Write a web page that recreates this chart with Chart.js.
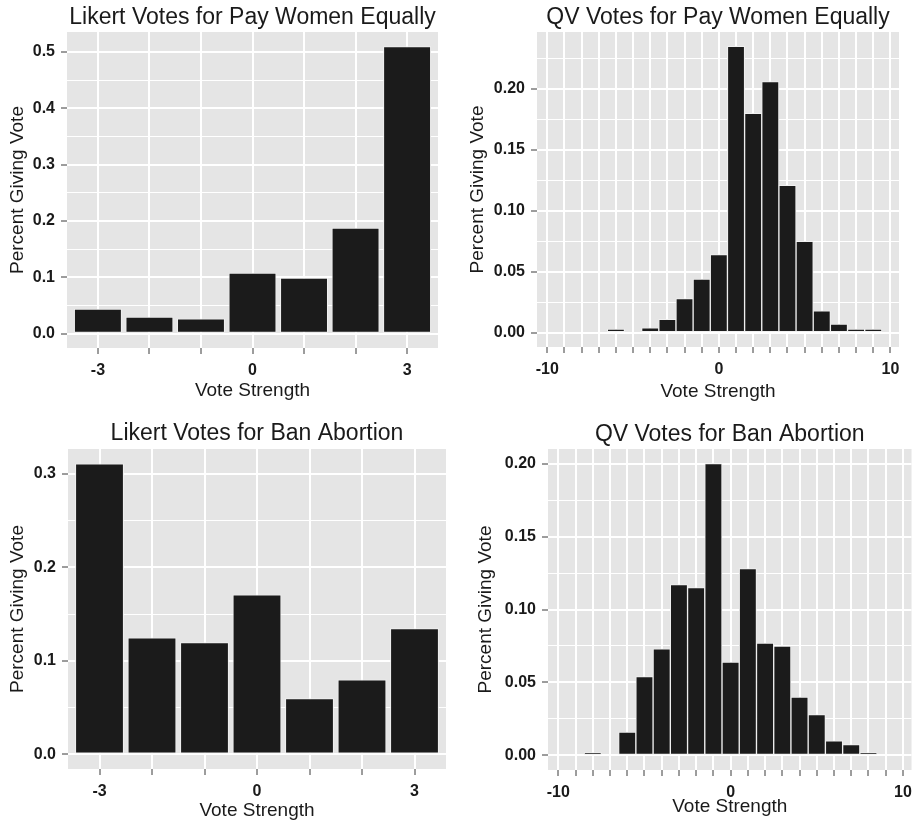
<!DOCTYPE html>
<html><head><meta charset="utf-8">
<script src="https://cdn.jsdelivr.net/npm/chart.js@4.4.1/dist/chart.umd.min.js"></script>
<style>
html,body{margin:0;padding:0;background:#fff;}
#wrap{position:relative;width:919px;height:829px;overflow:hidden;background:#fff;}
canvas{position:absolute;}
</style></head><body>
<div id="wrap">
<canvas id="c1" width="460" height="410" style="left:0px;top:0px"></canvas>
<canvas id="c2" width="459" height="410" style="left:460px;top:0px"></canvas>
<canvas id="c3" width="460" height="419" style="left:0px;top:410px"></canvas>
<canvas id="c4" width="459" height="419" style="left:460px;top:410px"></canvas>
</div>
<script>
// ---- data ----
const likertStrength = [-3, -2, -1, 0, 1, 2, 3];
const likertPayWomen = [0.044, 0.030, 0.027, 0.108, 0.099, 0.188, 0.510];
const likertBanAbortion = [0.311, 0.125, 0.120, 0.171, 0.060, 0.080, 0.135];

const qvStrength = [-10, -9, -8, -7, -6, -5, -4, -3, -2, -1, 0, 1, 2, 3, 4, 5, 6, 7, 8, 9, 10];
const qvPayWomen = [0, 0, 0, 0, 0.003, 0, 0.004, 0.011, 0.028, 0.044, 0.064, 0.235, 0.180, 0.206, 0.121, 0.075, 0.018, 0.007, 0.003, 0.003, 0];
const qvBanAbortion = [0, 0, 0.002, 0, 0.016, 0.054, 0.073, 0.117, 0.115, 0.200, 0.064, 0.128, 0.077, 0.075, 0.040, 0.028, 0.010, 0.0075, 0.002, 0, 0];

const likertXTickValues = [-3, 0, 3];
const likertXTickLabels = ['-3', '0', '3'];
const qvXTickValues = [-10, 0, 10];
const qvXTickLabels = ['-10', '0', '10'];

const payLikertYTicks = [0, 0.1, 0.2, 0.3, 0.4, 0.5];
const payLikertYLabels = ['0.0', '0.1', '0.2', '0.3', '0.4', '0.5'];
const payQvYTicks = [0, 0.05, 0.10, 0.15, 0.20];
const payQvYLabels = ['0.00', '0.05', '0.10', '0.15', '0.20'];
const abortionLikertYTicks = [0, 0.1, 0.2, 0.3];
const abortionLikertYLabels = ['0.0', '0.1', '0.2', '0.3'];
const abortionQvYTicks = [0, 0.05, 0.10, 0.15, 0.20];
const abortionQvYLabels = ['0.00', '0.05', '0.10', '0.15', '0.20'];

const panelTitles = [
  'Likert Votes for Pay Women Equally',
  'QV Votes for Pay Women Equally',
  'Likert Votes for Ban Abortion',
  'QV Votes for Ban Abortion'
];
const xAxisTitle = 'Vote Strength';
const yAxisTitle = 'Percent Giving Vote';

// ---- styling / layout ----
const FONT = '"Liberation Sans", Arial, Helvetica, sans-serif';
const TITLE_SIZE = 23, AXIS_TITLE_SIZE = 19, TICK_SIZE = 16;
const TEXT_COLOR = '#1a1a1a';
const PANEL_BG = '#e5e5e5';

const panelBg = {
  id: 'panelBg',
  beforeDraw(chart) {
    const {ctx, chartArea: a} = chart;
    ctx.save();
    ctx.fillStyle = PANEL_BG;
    ctx.fillRect(a.left, a.top, a.right - a.left, a.bottom - a.top);
    ctx.restore();
  }
};

function near(a, b) { return Math.abs(a - b) < 1e-9; }

function makePanel(spec) {
  const vmax = Math.max(...spec.values);
  const yMin = -0.05 * vmax, yMax = 1.05 * vmax;
  const majors = spec.yTicks;
  const step = majors[1] - majors[0];
  const allY = [];
  for (let v = majors[0] - step / 2; v <= yMax + 1e-9; v += step / 2) {
    if (v >= yMin - 1e-9) allY.push(Math.round(v * 100000) / 100000);
  }
  const isMajorY = v => majors.some(m => near(m, v));
  const xTickVals = spec.categories.slice();

  const points = spec.categories.map((c, i) => ({x: c, y: spec.values[i]})).filter(p => p.y > 0);

  const lh = TITLE_SIZE * 1.2;
  const tTop = spec.titleMid - lh / 2;
  const tBottom = spec.area.t - tTop - lh;
  const alh = AXIS_TITLE_SIZE * 1.2;

  new Chart(document.getElementById(spec.canvas), {
    type: 'bar',
    data: {
      datasets: [{
        data: points,
        backgroundColor: '#1b1b1b',
        borderColor: '#f0f0f0',
        borderWidth: 1,
        borderSkipped: false,
        barPercentage: spec.barPct,
        categoryPercentage: 1
      }]
    },
    options: {
      responsive: false,
      animation: false,
      devicePixelRatio: 1,
      layout: {padding: {left: 0, top: 0, bottom: 0, right: spec.w - spec.area.r}},
      plugins: {
        legend: {display: false},
        tooltip: {enabled: false},
        title: {
          display: true,
          text: spec.title,
          fullSize: false,
          color: TEXT_COLOR,
          font: {family: FONT, size: TITLE_SIZE, weight: 'normal', lineHeight: 1.2},
          padding: {top: tTop, bottom: tBottom}
        }
      },
      scales: {
        x: {
          type: 'linear',
          min: spec.xMin,
          max: spec.xMax,
          offset: false,
          afterBuildTicks: s => { s.ticks = xTickVals.map(v => ({value: v})); },
          afterFit: s => { s.height = spec.h - spec.area.b; },
          border: {display: false},
          grid: {
            offset: false,
            color: '#ffffff',
            lineWidth: 2,
            drawTicks: true,
            tickLength: 6,
            tickColor: '#3a3a3a',
            tickWidth: 1
          },
          ticks: {
            autoSkip: false,
            maxRotation: 0,
            minRotation: 0,
            padding: 7,
            color: TEXT_COLOR,
            font: {family: FONT, size: TICK_SIZE, weight: 'bold', lineHeight: 1.2},
            callback: v => {
              const i = spec.xTickValues.findIndex(t => near(t, v));
              return i >= 0 ? spec.xTickLabels[i] : '';
            }
          },
          title: {
            display: true,
            text: xAxisTitle,
            color: TEXT_COLOR,
            font: {family: FONT, size: AXIS_TITLE_SIZE, weight: 'normal', lineHeight: 1.2},
            padding: {top: 0, bottom: spec.h - spec.xTitleMid - alh / 2}
          }
        },
        y: {
          type: 'linear',
          min: yMin,
          max: yMax,
          afterBuildTicks: s => { s.ticks = allY.map(v => ({value: v})); },
          afterFit: s => { s.width = spec.area.l; },
          border: {display: false},
          grid: {
            color: '#ffffff',
            lineWidth: ctx => (ctx.tick && isMajorY(ctx.tick.value)) ? 2 : 1,
            drawTicks: true,
            tickLength: 6,
            tickColor: ctx => (ctx.tick && isMajorY(ctx.tick.value)) ? '#3a3a3a' : 'rgba(0,0,0,0)',
            tickWidth: 1
          },
          ticks: {
            autoSkip: false,
            padding: 6,
            color: TEXT_COLOR,
            font: {family: FONT, size: TICK_SIZE, weight: 'bold', lineHeight: 1.2},
            callback: v => {
              const i = majors.findIndex(m => near(m, v));
              return i >= 0 ? spec.yLabels[i] : '';
            }
          },
          title: {
            display: true,
            text: yAxisTitle,
            color: TEXT_COLOR,
            font: {family: FONT, size: AXIS_TITLE_SIZE, weight: 'normal', lineHeight: 1.2},
            padding: {top: spec.yTitleX - alh / 2, bottom: 0}
          }
        }
      }
    },
    plugins: [panelBg]
  });
}

makePanel({
  canvas: 'c1', w: 460, h: 410, area: {l: 67, r: 438, t: 32, b: 348},
  titleMid: 17.5, yTitleX: 17.5, xTitleMid: 391,
  title: panelTitles[0], categories: likertStrength, values: likertPayWomen,
  xMin: -3.6, xMax: 3.6, barPct: 0.93,
  xTickValues: likertXTickValues, xTickLabels: likertXTickLabels,
  yTicks: payLikertYTicks, yLabels: payLikertYLabels
});
makePanel({
  canvas: 'c2', w: 459, h: 410, area: {l: 77, r: 439, t: 32, b: 347},
  titleMid: 17.5, yTitleX: 17.5, xTitleMid: 391.5,
  title: panelTitles[1], categories: qvStrength, values: qvPayWomen,
  xMin: -10.6, xMax: 10.5, barPct: 1,
  xTickValues: qvXTickValues, xTickLabels: qvXTickLabels,
  yTicks: payQvYTicks, yLabels: payQvYLabels
});
makePanel({
  canvas: 'c3', w: 460, h: 419, area: {l: 68, r: 446, t: 39, b: 359},
  titleMid: 23.5, yTitleX: 18, xTitleMid: 401,
  title: panelTitles[2], categories: likertStrength, values: likertBanAbortion,
  xMin: -3.6, xMax: 3.6, barPct: 0.93,
  xTickValues: likertXTickValues, xTickLabels: likertXTickLabels,
  yTicks: abortionLikertYTicks, yLabels: abortionLikertYLabels
});
makePanel({
  canvas: 'c4', w: 459, h: 419, area: {l: 88, r: 455, t: 39, b: 360},
  titleMid: 24.5, yTitleX: 25.5, xTitleMid: 397,
  title: panelTitles[3], categories: qvStrength, values: qvBanAbortion,
  xMin: -10.6, xMax: 10.5, barPct: 1,
  xTickValues: qvXTickValues, xTickLabels: qvXTickLabels,
  yTicks: abortionQvYTicks, yLabels: abortionQvYLabels
});
</script>
</body></html>
